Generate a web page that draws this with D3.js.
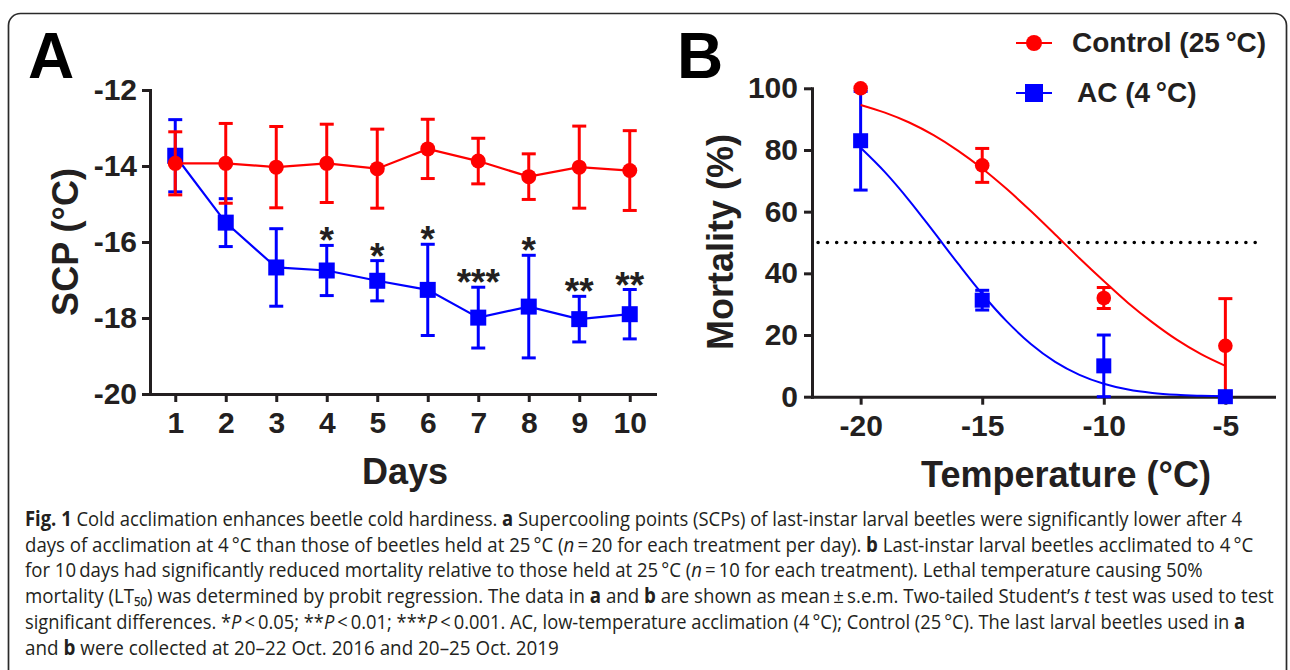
<!DOCTYPE html>
<html>
<head>
<meta charset="utf-8">
<script src="https://cdn.jsdelivr.net/npm/d3@7"></script>
<style>
  body { margin: 0; background: #fff; }
  svg { display: block; font-family: "Liberation Sans", Arial, sans-serif; }
</style>
</head>
<body>
<svg id="fig" width="1290" height="670"></svg>
<script>
// panel A - supercooling point per day (mean, s.e.m.)
const days = [1, 2, 3, 4, 5, 6, 7, 8, 9, 10];
const scpControl = [-13.93, -13.93, -14.03, -13.93, -14.07, -13.55, -13.87, -14.28, -14.03, -14.12];
const scpControlErr = [0.83, 1.05, 1.07, 1.03, 1.04, 0.78, 0.6, 0.6, 1.08, 1.05];
const scpAC = [-13.73, -15.49, -16.67, -16.75, -17.02, -17.26, -17.99, -17.70, -18.03, -17.90];
const scpACErr = [0.95, 0.63, 1.02, 0.66, 0.53, 1.2, 0.8, 1.35, 0.6, 0.65];
const sigMarks = ["", "", "", "*", "*", "*", "***", "*", "**", "**"];
const scpTicks = [-12, -14, -16, -18, -20];

// panel B - mortality vs temperature
const temps = [-20, -15, -10, -5];
const mortControl = [100, 75, 32, 16.5];
const mortControlErr = [0, 5.5, 3.4, 15.3];
const mortAC = [83, 31.3, 10, 0];
const mortACErr = [16, 3.2, 10, 0];
// fitted probit curves at each degree
const fitTemps = [-20, -19, -18, -17, -16, -15, -14, -13, -12, -11, -10, -9, -8, -7, -6, -5];
const fitControl = [94.6, 92.1, 88.9, 84.8, 79.8, 74.0, 67.4, 60.2, 52.6, 44.9, 37.5, 30.4, 24.1, 18.5, 13.8, 10.0];
const fitAC = [80.7, 72.8, 63.6, 53.5, 43.2, 33.3, 24.5, 17.1, 11.3, 7.1, 4.2, 2.3, 1.2, 0.6, 0.3, 0.1];
const lt50 = { value: 50, from: -21.75, to: -3.4 };
const mortTicks = [0, 20, 40, 60, 80, 100];
const tempTicks = [-20, -15, -10, -5];

const captionLines = [
  [["b", "Fig. 1"], ["", " Cold acclimation enhances beetle cold hardiness. "], ["b", "a"], ["", " Supercooling points (SCPs) of last-instar larval beetles were significantly lower after 4"]],
  [["", "days of acclimation at 4\u2009°C than those of beetles held at 25\u2009°C ("], ["i", "n"], ["", "\u2009=\u200920 for each treatment per day). "], ["b", "b"], ["", " Last-instar larval beetles acclimated to 4\u2009°C"]],
  [["", "for 10\u2009days had significantly reduced mortality relative to those held at 25\u2009°C ("], ["i", "n"], ["", "\u2009=\u200910 for each treatment). Lethal temperature causing 50%"]],
  [["", "mortality (LT\u2085\u2080) was determined by probit regression. The data in "], ["b", "a"], ["", " and "], ["b", "b"], ["", " are shown as mean\u2009±\u2009s.e.m. Two-tailed Student’s "], ["i", "t"], ["", " test was used to test"]],
  [["", "significant differences. *"], ["i", "P"], ["", "\u2009<\u20090.05; **"], ["i", "P"], ["", "\u2009<\u20090.01; ***"], ["i", "P"], ["", "\u2009<\u20090.001. AC, low-temperature acclimation (4\u2009°C); Control (25\u2009°C). The last larval beetles used in "], ["b", "a"]],
  [["", "and "], ["b", "b"], ["", " were collected at 20–22 Oct. 2016 and 20–25 Oct. 2019"]]
];
const captionWidths = [1218, 1229, 1179, 1249, 1221, 534];

const RED = "#ff0000", BLUE = "#0000ff", INK = "#231f20";

const svg = d3.select("#fig");

// outer frame
svg.append("rect")
  .attr("x", 8.5).attr("y", 13.5)
  .attr("width", 1278).attr("height", 720)
  .attr("rx", 12)
  .attr("fill", "none").attr("stroke", "#2a2a2a").attr("stroke-width", 1.7);

function styleAxis(g) {
  g.attr("font-family", null).attr("font-size", null);
  g.select(".domain").attr("stroke", INK).attr("stroke-width", 3).attr("stroke-linecap", "square");
  g.selectAll(".tick line").attr("stroke", INK).attr("stroke-width", 3);
  g.selectAll(".tick text")
    .attr("fill", INK)
    .style("font-size", "30px").style("font-weight", "bold");
}

function errorBars(g, xs, ys, errs, xScale, yScale, color) {
  const cap = 7;
  xs.forEach((x, i) => {
    if (!errs[i]) return;
    const cx = xScale(x);
    const top = yScale(ys[i] + errs[i]), bot = yScale(ys[i] - errs[i]);
    g.append("line").attr("x1", cx).attr("x2", cx).attr("y1", top).attr("y2", bot)
      .attr("stroke", color).attr("stroke-width", 3);
    [top, bot].forEach(yy => {
      g.append("line").attr("x1", cx - cap).attr("x2", cx + cap).attr("y1", yy).attr("y2", yy)
        .attr("stroke", color).attr("stroke-width", 3);
    });
  });
}

const hyphen = d => String(d);

// ---------- panel A ----------
const xA = d3.scaleLinear().domain([0.5, 10.5]).range([150, 655]);
const yA = d3.scaleLinear().domain([-20, -12]).range([394, 90]);

const gA = svg.append("g");
gA.append("g").attr("transform", "translate(150,0)")
  .call(d3.axisLeft(yA).tickValues(scpTicks).tickSize(8).tickSizeOuter(0).tickPadding(5).tickFormat(hyphen))
  .call(styleAxis);
gA.append("g").attr("transform", "translate(0,394)")
  .call(d3.axisBottom(xA).tickValues(days).tickSize(8).tickSizeOuter(0).tickPadding(10).tickFormat(hyphen))
  .call(styleAxis);

const lineA = d3.line().x((d, i) => xA(days[i])).y(d => yA(d));

// AC series (drawn first, control sits on top)
errorBars(gA, days, scpAC, scpACErr, xA, yA, BLUE);
gA.append("path").datum(scpAC).attr("d", lineA).attr("fill", "none").attr("stroke", BLUE).attr("stroke-width", 2.2);
gA.selectAll("rect.ac").data(scpAC).enter().append("rect")
  .attr("x", (d, i) => xA(days[i]) - 8).attr("y", d => yA(d) - 8)
  .attr("width", 16).attr("height", 16).attr("fill", BLUE);

errorBars(gA, days, scpControl, scpControlErr, xA, yA, RED);
gA.append("path").datum(scpControl).attr("d", lineA).attr("fill", "none").attr("stroke", RED).attr("stroke-width", 2.2);
gA.selectAll("circle.ctl").data(scpControl).enter().append("circle")
  .attr("cx", (d, i) => xA(days[i])).attr("cy", d => yA(d)).attr("r", 7.5).attr("fill", RED);

gA.selectAll("text.sig").data(sigMarks).enter().append("text")
  .attr("x", (d, i) => xA(days[i]))
  .attr("y", (d, i) => yA(scpAC[i] + scpACErr[i]) + 8)
  .attr("text-anchor", "middle")
  .attr("fill", INK).style("font-size", "37px").style("font-weight", "bold")
  .text(d => d);

gA.append("text").attr("transform", "translate(78,242) rotate(-90)")
  .attr("text-anchor", "middle").attr("fill", INK)
  .style("font-size", "36px").style("font-weight", "bold").text("SCP (°C)");
gA.append("text").attr("x", 405).attr("y", 484).attr("text-anchor", "middle").attr("fill", INK)
  .style("font-size", "36px").style("font-weight", "bold").text("Days");
svg.append("text").attr("x", 28).attr("y", 78).attr("fill", "#000")
  .style("font-size", "64px").style("font-weight", "bold").text("A");

// ---------- panel B ----------
const xB = d3.scaleLinear().domain([-22, -3]).range([812, 1274]);
const yB = d3.scaleLinear().domain([0, 100]).range([396.7, 88.3]);

const gB = svg.append("g");
gB.append("g").attr("transform", "translate(812,0)")
  .call(d3.axisLeft(yB).tickValues(mortTicks).tickSize(8).tickSizeOuter(0).tickPadding(6).tickFormat(hyphen))
  .call(styleAxis);
gB.append("g").attr("transform", "translate(0,396.7)")
  .call(d3.axisBottom(xB).tickValues(tempTicks).tickSize(8).tickSizeOuter(0).tickPadding(10).tickFormat(hyphen))
  .call(styleAxis);

// LT50 reference
gB.append("line")
  .attr("x1", xB(lt50.from)).attr("x2", xB(lt50.to))
  .attr("y1", yB(lt50.value)).attr("y2", yB(lt50.value))
  .attr("stroke", "#000").attr("stroke-width", 3.6)
  .attr("stroke-linecap", "round").attr("stroke-dasharray", "0 9.3");

const fitLine = d3.line().x((d, i) => xB(fitTemps[i])).y(d => yB(d)).curve(d3.curveMonotoneX);

errorBars(gB, temps, mortAC, mortACErr, xB, yB, BLUE);
gB.append("path").datum(fitAC).attr("d", fitLine).attr("fill", "none").attr("stroke", BLUE).attr("stroke-width", 2);
gB.append("path").datum(fitControl).attr("d", fitLine).attr("fill", "none").attr("stroke", RED).attr("stroke-width", 2);
errorBars(gB, temps, mortControl, mortControlErr, xB, yB, RED);
gB.selectAll("circle.ctl").data(mortControl).enter().append("circle")
  .attr("cx", (d, i) => xB(temps[i])).attr("cy", d => yB(d)).attr("r", 7.3).attr("fill", RED);
gB.selectAll("rect.ac").data(mortAC).enter().append("rect")
  .attr("x", (d, i) => xB(temps[i]) - 7.5).attr("y", d => yB(d) - 7.5)
  .attr("width", 15).attr("height", 15).attr("fill", BLUE);

gB.append("text").attr("transform", "translate(733,242) rotate(-90)")
  .attr("text-anchor", "middle").attr("fill", INK)
  .style("font-size", "36px").style("font-weight", "bold").text("Mortality (%)");
gB.append("text").attr("x", 1066).attr("y", 487).attr("text-anchor", "middle").attr("fill", INK)
  .style("font-size", "36px").style("font-weight", "bold").text("Temperature (°C)");
svg.append("text").attr("x", 677).attr("y", 78).attr("fill", "#000")
  .style("font-size", "64px").style("font-weight", "bold").text("B");

// legend
const legend = [
  { label: "Control (25\u2009°C)", color: RED, shape: "circle", y: 43, tx: 1072 },
  { label: "AC (4\u2009°C)", color: BLUE, shape: "square", y: 93, tx: 1077 }
];
legend.forEach(l => {
  const g = svg.append("g");
  g.append("line").attr("x1", 1016).attr("x2", 1052).attr("y1", l.y).attr("y2", l.y)
    .attr("stroke", l.color).attr("stroke-width", 2);
  if (l.shape === "circle") {
    g.append("circle").attr("cx", 1034).attr("cy", l.y).attr("r", 8).attr("fill", l.color);
  } else {
    g.append("rect").attr("x", 1025).attr("y", l.y - 9).attr("width", 18).attr("height", 18).attr("fill", l.color);
  }
  g.append("text").attr("x", l.tx).attr("y", l.y + 9).attr("fill", INK)
    .style("font-size", "28px").style("font-weight", "bold").text(l.label);
});

// caption: each line squeezed horizontally to the width it has in the figure
const cap = svg.append("g").style("font-family", "'Open Sans', 'Noto Sans', sans-serif").style("font-size", "20.5px").attr("fill", INK);
captionLines.forEach((parts, li) => {
  const t = cap.append("text").attr("x", 0).attr("y", 0);
  parts.forEach(([kind, str]) => {
    const s = t.append("tspan").text(str);
    if (kind === "b") s.style("font-weight", "bold");
    if (kind === "i") s.style("font-style", "italic");
  });
  const natural = t.node().getComputedTextLength();
  t.attr("transform", `translate(25,${526 + li * 25.7}) scale(${captionWidths[li] / natural},1)`);
});
</script>
</body>
</html>
